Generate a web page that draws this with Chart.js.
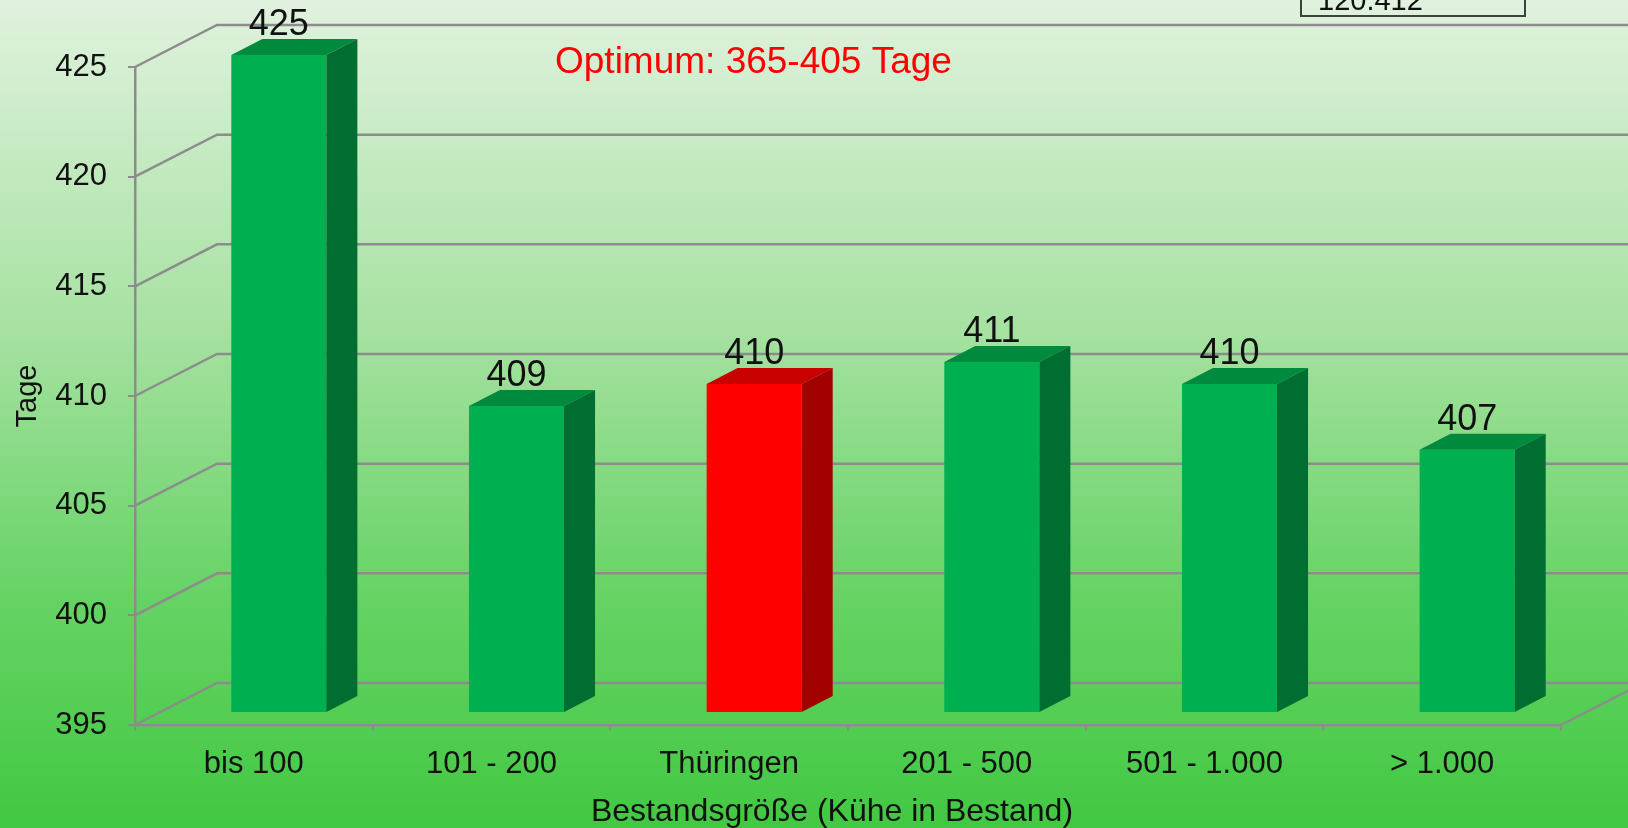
<!DOCTYPE html>
<html lang="de">
<head>
<meta charset="utf-8">
<title>Zwischenkalbezeit nach Bestandsgröße</title>
<script src="https://cdn.jsdelivr.net/npm/chart.js@4.4.1/dist/chart.umd.min.js"></script>
<style>
html,body{margin:0;padding:0;background:#42c842;overflow:hidden}
#chart{display:block;width:1628px;height:828px}
</style>
</head>
<body>
<canvas id="chart" width="1628" height="828"></canvas>
<script>
// Daten
const categories=['bis 100','101 - 200','Thüringen','201 - 500','501 - 1.000','> 1.000'];
const tage=[425,409,410,411,410,407];
const yMin=395, yMax=425, yStep=5;
const highlight='Thüringen';
const xTitle='Bestandsgröße (Kühe in Bestand)';
const yTitle='Tage';
const optimumText='Optimum: 365-405 Tage';
const boxText='120.412';

// Optik
const FONT="'Liberation Sans', Arial, sans-serif";
const GRID='#8c8c8c';
const WALL_DX=82, WALL_DY=42;   // Tiefe der Rueckwand
const SHIFT_X=25, SHIFT_Y=12;   // Saeulen stehen hinter der Vorderkante
const BAR_DX=31, BAR_DY=16;     // Tiefe der Saeulen

// Hintergrund-Verlauf
const bgPlugin={id:'bg',beforeDraw(c){
  const ctx=c.ctx;
  const g=ctx.createLinearGradient(0,0,0,c.height);
  g.addColorStop(0,'#e0f2de');g.addColorStop(0.4,'#a6e1a1');g.addColorStop(0.72,'#66d365');g.addColorStop(1,'#42c842');
  ctx.save();ctx.fillStyle=g;ctx.fillRect(0,0,c.width,c.height);ctx.restore();
}};

// Rueckwand + 3D-Saeulen
const wallPlugin={id:'wall',
  beforeDatasetsDraw(c){
    const {ctx,chartArea:a,scales:{y}}=c;
    ctx.save();ctx.strokeStyle=GRID;ctx.lineWidth=2.5;
    y.ticks.forEach(t=>{
      const py=y.getPixelForValue(t.value);
      ctx.beginPath();ctx.moveTo(a.left,py);ctx.lineTo(a.left+WALL_DX,py-WALL_DY);ctx.lineTo(c.width,py-WALL_DY);ctx.stroke();
    });
    ctx.beginPath();ctx.moveTo(a.right,a.bottom);ctx.lineTo(a.right+WALL_DX,a.bottom-WALL_DY);ctx.stroke();
    ctx.restore();
    ctx.save();ctx.translate(SHIFT_X,-SHIFT_Y);
  },
  afterDatasetsDraw(c){
    const ctx=c.ctx;
    c.getDatasetMeta(0).data.forEach((bar,i)=>{
      const {x,y,base,width}=bar.getProps(['x','y','base','width'],true);
      const l=x-width/2, r=x+width/2;
      const red=categories[i]===highlight;
      // Deckflaeche
      ctx.fillStyle=red?'#c80000':'#008a3e';
      ctx.beginPath();ctx.moveTo(l,y);ctx.lineTo(r,y);ctx.lineTo(r+BAR_DX,y-BAR_DY);ctx.lineTo(l+BAR_DX,y-BAR_DY);ctx.closePath();ctx.fill();
      // Seitenflaeche
      ctx.fillStyle=red?'#a30000':'#006e31';
      ctx.beginPath();ctx.moveTo(r,y);ctx.lineTo(r+BAR_DX,y-BAR_DY);ctx.lineTo(r+BAR_DX,base-BAR_DY);ctx.lineTo(r,base);ctx.closePath();ctx.fill();
      // Wert
      ctx.fillStyle='#111';ctx.font='36px '+FONT;ctx.textAlign='center';ctx.textBaseline='alphabetic';
      ctx.fillText(String(tage[i]),x,y-BAR_DY-4);
    });
    ctx.restore();
  }
};

// Texte: Optimum, Achsentitel, Kasten oben rechts
const textPlugin={id:'texts',afterDraw(c){
  const {ctx,chartArea:a}=c;
  ctx.save();
  ctx.textBaseline='alphabetic';
  ctx.fillStyle='#ff0000';ctx.font='37px '+FONT;ctx.textAlign='left';
  ctx.fillText(optimumText,555,73);
  ctx.fillStyle='#111';ctx.font='32px '+FONT;ctx.textAlign='center';
  ctx.fillText(xTitle,(a.left+a.right)/2-16,821);
  ctx.strokeStyle='#404040';ctx.lineWidth=2;ctx.strokeRect(1301,-20,224,36);
  ctx.font='29px '+FONT;ctx.textAlign='left';
  ctx.fillText(boxText,1318,10);
  ctx.restore();
}};

new Chart(document.getElementById('chart'),{
  type:'bar',
  data:{labels:categories,datasets:[{
    data:tage,base:yMin,
    backgroundColor:categories.map(k=>k===highlight?'#ff0000':'#00b050'),
    borderWidth:0,barPercentage:0.4,categoryPercentage:1,clip:false
  }]},
  options:{
    responsive:false,animation:false,
    layout:{padding:{top:67,right:67,bottom:0,left:0}},
    plugins:{legend:{display:false},tooltip:{enabled:false}},
    scales:{
      x:{
        grid:{drawOnChartArea:false,drawTicks:true,tickLength:6,color:GRID,lineWidth:2},
        border:{display:true,color:GRID,width:2.5},
        ticks:{color:'#111',font:{family:FONT,size:31},padding:15,maxRotation:0},
        afterFit(s){s.height=103;}
      },
      y:{
        min:yMin,max:yMax,
        ticks:{stepSize:yStep,color:'#111',font:{family:FONT,size:31},padding:21},
        grid:{drawOnChartArea:false,tickLength:7,color:GRID,lineWidth:2},
        border:{display:true,color:GRID,width:2.5},
        title:{display:true,text:yTitle,color:'#111',font:{family:FONT,size:29},padding:{top:11}},
        afterFit(s){s.width=135;}
      }
    }
  },
  plugins:[bgPlugin,wallPlugin,textPlugin]
});
</script>
</body>
</html>
